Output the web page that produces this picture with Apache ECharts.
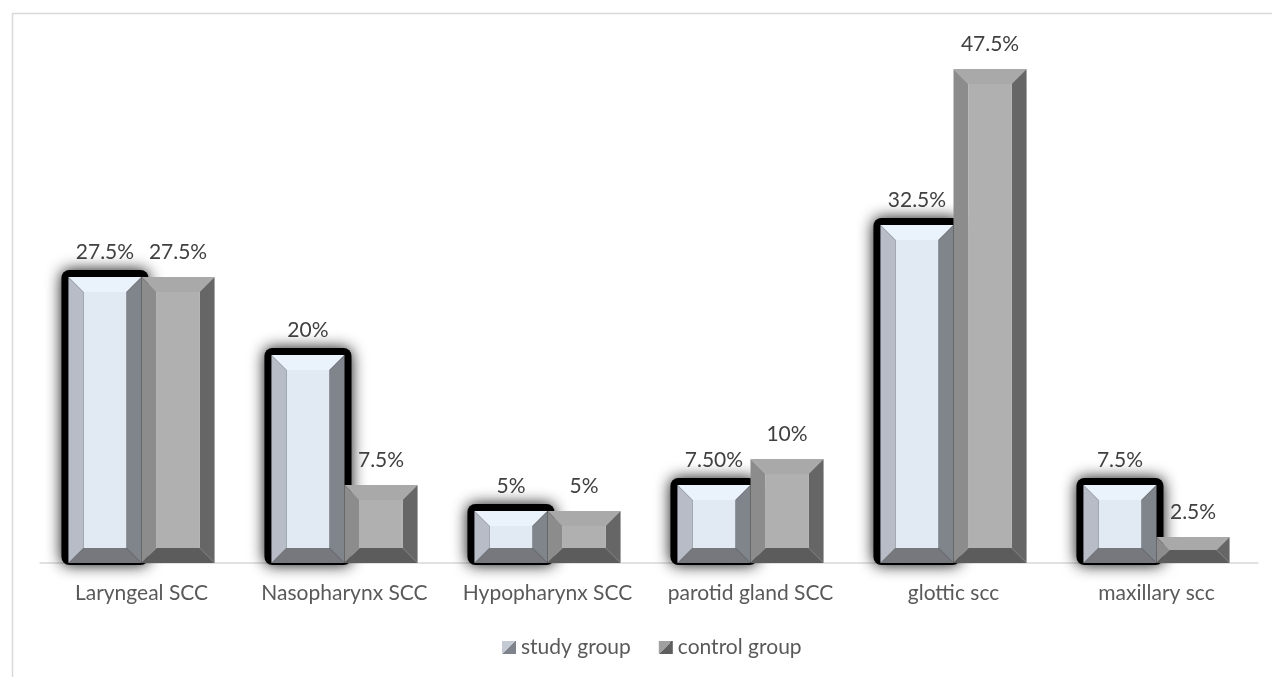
<!DOCTYPE html>
<html>
<head>
<meta charset="utf-8">
<script src="https://cdn.jsdelivr.net/npm/echarts@6/dist/echarts.min.js"></script>
<style>
  html, body { margin: 0; padding: 0; background: #ffffff; }
  #chart { width: 1272px; height: 677px; }
</style>
</head>
<body>
<div id="chart"></div>
<script>
// Tumour sites and share of cases in each group
const categories = ['Laryngeal SCC', 'Nasopharynx SCC', 'Hypopharynx SCC', 'parotid gland SCC', 'glottic scc', 'maxillary scc'];
const studyValues = [27.5, 20, 5, 7.5, 32.5, 7.5];
const controlValues = [27.5, 7.5, 5, 10, 47.5, 2.5];
const studyLabels = ['27.5%', '20%', '5%', '7.50%', '32.5%', '7.5%'];
const controlLabels = ['27.5%', '7.5%', '5%', '10%', '47.5%', '2.5%'];
const seriesNames = ['study group', 'control group'];

const FONT = 'Lato, "Open Sans", sans-serif';
const FONT_SIZE = 21;

// Face colours for the bevelled bars: top, left, right, bottom, inner
const palettes = {
  study: { top: '#eaf2fc', left: '#b7bcc6', right: '#80848b', bottom: '#76787d', inner: '#e1e9f3' },
  control: { top: '#a9a9a9', left: '#8c8c8c', right: '#666666', bottom: '#5c5c5c', inner: '#b0b0b0' }
};

// Diagonally split swatch for the legend keys
function splitSwatch(light, dark) {
  return new echarts.graphic.LinearGradient(0, 0, 1, 1, [
    { offset: 0, color: light },
    { offset: 0.5, color: light },
    { offset: 0.5, color: dark },
    { offset: 1, color: dark }
  ]);
}

function bevelBar(side, palette, labels, glow) {
  return function (params, api) {
    const idx = api.value(0);
    const val = api.value(1);
    const top = api.coord([idx, val]);
    const base = api.coord([idx, 0]);
    const band = api.size([1, 0])[0];
    const bw = band * 0.36;
    const x0 = side < 0 ? top[0] - bw : top[0];
    const x1 = x0 + bw;
    const y0 = top[1];
    const y1 = base[1];
    const h = y1 - y0;
    const b = Math.min(15, h / 2, bw / 2);
    const children = [];
    if (glow) {
      // soft black glow around the bar
      children.push({
        type: 'rect',
        shape: { x: x0 - 7, y: y0 - 7, width: bw + 14, height: h + 9, r: 8 },
        style: { fill: '#000', shadowBlur: 15, shadowColor: 'rgba(0,0,0,0.95)' },
        z2: 0
      });
    }
    const poly = (pts, fill) => ({ type: 'polygon', shape: { points: pts }, style: { fill: fill }, z2: 1 });
    children.push(poly([[x0, y0], [x1, y0], [x1 - b, y0 + b], [x0 + b, y0 + b]], palette.top));
    children.push(poly([[x0, y1], [x1, y1], [x1 - b, y1 - b], [x0 + b, y1 - b]], palette.bottom));
    children.push(poly([[x0, y0], [x0 + b, y0 + b], [x0 + b, y1 - b], [x0, y1]], palette.left));
    children.push(poly([[x1, y0], [x1 - b, y0 + b], [x1 - b, y1 - b], [x1, y1]], palette.right));
    children.push({
      type: 'rect',
      shape: { x: x0 + b, y: y0 + b, width: Math.max(0, bw - 2 * b), height: Math.max(0, h - 2 * b) },
      style: { fill: palette.inner },
      z2: 1
    });
    children.push({
      type: 'text',
      style: {
        text: labels[params.dataIndex],
        x: (x0 + x1) / 2,
        y: y0 - 25,
        align: 'center',
        verticalAlign: 'middle',
        fill: '#404040',
        font: FONT_SIZE + 'px ' + FONT
      },
      z2: 2
    });
    return { type: 'group', children: children };
  };
}

const chart = echarts.init(document.getElementById('chart'));
chart.setOption({
  animation: false,
  backgroundColor: '#ffffff',
  graphic: [{
    type: 'rect',
    shape: { x: 12.5, y: 13.5, width: 1300, height: 700 },
    style: { fill: 'none', stroke: '#d9d9d9', lineWidth: 1.5 },
    silent: true
  }],
  grid: { left: 40, right: 14, top: 43, bottom: 114 },
  xAxis: {
    type: 'category',
    data: categories,
    axisLine: { lineStyle: { color: '#d9d9d9', width: 1.5 } },
    axisTick: { show: false },
    axisLabel: { color: '#595959', fontSize: FONT_SIZE, fontFamily: FONT, margin: 20, interval: 0 }
  },
  yAxis: { type: 'value', min: 0, max: 50, show: false, splitLine: { show: false } },
  legend: {
    top: 632,
    left: 497,
    itemWidth: 14,
    itemHeight: 13,
    itemGap: 28,
    icon: 'rect',
    textStyle: { color: '#595959', fontSize: FONT_SIZE, fontFamily: FONT },
    data: [
      { name: seriesNames[0], itemStyle: { color: splitSwatch('#c4cad4', '#7f848c') } },
      { name: seriesNames[1], itemStyle: { color: splitSwatch('#a0a0a0', '#5e5e5e') } }
    ]
  },
  series: [
    {
      name: seriesNames[0],
      type: 'custom',
      itemStyle: { color: '#9ea2aa' },
      renderItem: bevelBar(-1, palettes.study, studyLabels, true),
      data: studyValues.map((v, i) => [i, v]),
      z: 2
    },
    {
      name: seriesNames[1],
      type: 'custom',
      itemStyle: { color: '#6e6e6e' },
      renderItem: bevelBar(1, palettes.control, controlLabels, false),
      data: controlValues.map((v, i) => [i, v]),
      z: 3
    }
  ]
});
</script>
</body>
</html>
